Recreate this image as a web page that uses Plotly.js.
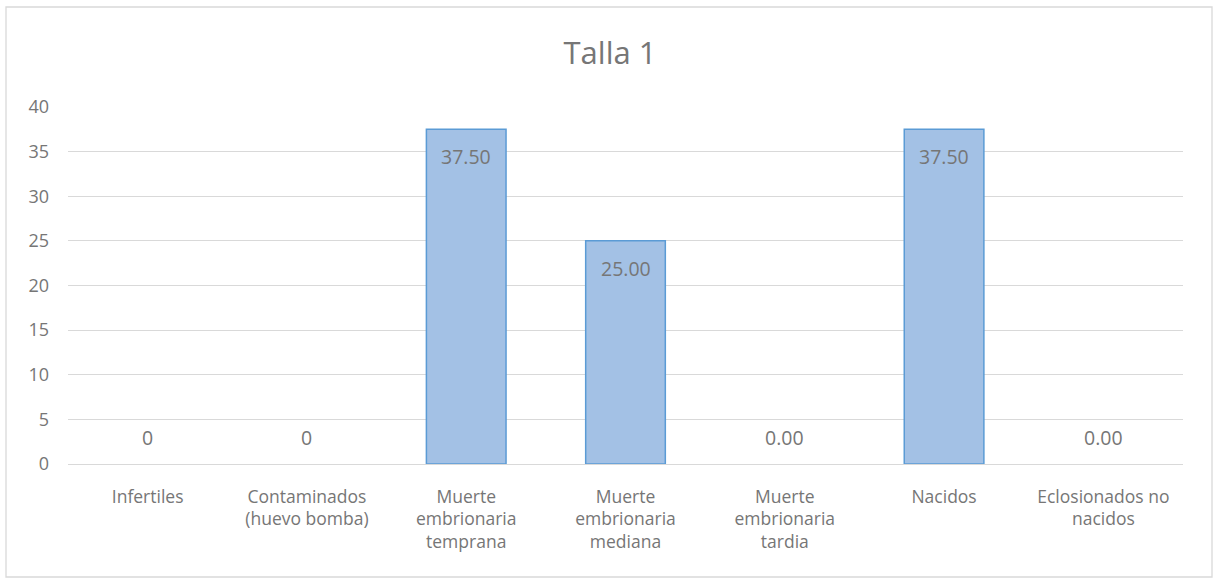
<!DOCTYPE html>
<html><head><meta charset="utf-8">
<script src="https://cdn.plot.ly/plotly-3.0.1.min.js"></script>
<style>html,body{margin:0;padding:0;background:#fff}#c{width:1220px;height:584px}</style>
</head><body><div id="c"></div>
<script>
const categories = ["Infertiles","Contaminados<br>(huevo bomba)","Muerte<br>embrionaria<br>temprana","Muerte<br>embrionaria<br>mediana","Muerte<br>embrionaria<br>tardia","Nacidos","Eclosionados no<br>nacidos"];
const values = [0, 0, 37.5, 25, 0, 37.5, 0];
const labels = ["0","0","37.50","25.00","0.00","37.50","0.00"];
const yTicks = [0,5,10,15,20,25,30,35,40];

const font = "Open Sans, Liberation Sans, sans-serif";
const grey = "#767676";

const annotations = values.map((v,i)=>({
  x: categories[i], y: v, xref:'x', yref:'y',
  text: labels[i], showarrow:false,
  yanchor: v>0 ? 'top' : 'bottom',
  yshift: v>0 ? -12 : 11,
  font:{family:font,size:19.5,color:grey}
}));

const trace = {
  type:'bar', x:categories, y:values,
  marker:{color:'#a3c1e5', line:{color:'#5b9bd5', width:values.map(v=>v>0?1.5:0)}},
  hoverinfo:'none'
};

const layout = {
  width:1220, height:584,
  margin:{l:68, r:37, t:107, b:120},
  paper_bgcolor:'#fff', plot_bgcolor:'#fff',
  title:{text:'Talla 1', x:0.5, xanchor:'center', y:1-53/584, yanchor:'middle', font:{family:font,size:31,color:grey}},
  bargap:0.5,
  showlegend:false,
  xaxis:{type:'category', showgrid:false, showline:false, zeroline:false, ticks:'',
    tickfont:{family:font,size:17.5,color:grey}, ticklabelstandoff:20},
  yaxis:{range:[0,40], tickvals:yTicks, showgrid:true, gridcolor:'#d9d9d9', gridwidth:1,
    zeroline:true, zerolinecolor:'#d9d9d9', zerolinewidth:1, showline:false, ticks:'',
    tickfont:{family:font,size:18,color:grey}, ticklabelstandoff:18},
  annotations: annotations,
  shapes:[{type:'rect', xref:'paper', yref:'paper',
    x0:(6-68)/1115, x1:(1212-68)/1115, y0:(464-577)/357, y1:(464-7)/357,
    line:{color:'#d9d9d9', width:1.3}, fillcolor:'rgba(0,0,0,0)', layer:'below'}]
};

Plotly.newPlot('c',[trace],layout,{displayModeBar:false, staticPlot:true});
</script></body></html>
